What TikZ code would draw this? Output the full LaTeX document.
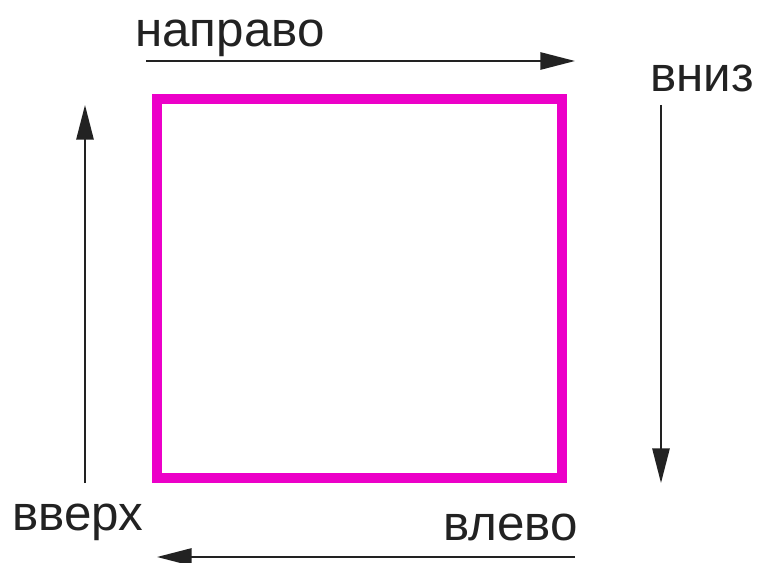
\documentclass[tikz,border=0pt]{standalone}
\usepackage{fontspec}
\setmainfont{Liberation Sans}
\usepackage{xcolor}
\usetikzlibrary{arrows.meta, positioning}
\definecolor{sqpink}{RGB}{236,0,200}
\definecolor{txtgray}{RGB}{34,34,34}

\begin{document}
\begin{tikzpicture}[x=0.75pt, y=-0.75pt,
  sq/.style={draw=sqpink, line width=7.5pt, line join=miter},
  arr/.style={-{Triangle[length=26pt, width=13pt]}, line width=1.3pt, draw=txtgray},
  lbl/.style={font=\fontsize{37}{40}\selectfont, text=txtgray, inner sep=0pt, anchor=base west},
]
\useasboundingbox (0,0) rectangle (758,563);
% square
\draw[sq] (157,99) rectangle (562,478);
% arrow ends
\coordinate (tl) at (146,61);   \coordinate (tr) at (575,61);
\coordinate (rt) at (661,105);  \coordinate (rb) at (661,483);
\coordinate (br) at (575,557);  \coordinate (bl) at (157,557);
\coordinate (lb) at (85,483);   \coordinate (lt) at (85,105);
% labels
\node[lbl] at (135,47)  (right) {направо};
\node[lbl] at (650,92)  (down)  {вниз};
\node[lbl] at (443,540) (left)  {влево};
\node[lbl] at (12,530)  (up)    {вверх};
% arrows
\draw[arr] (tl) -- (tr);
\draw[arr] (rt) -- (rb);
\draw[arr] (br) -- (bl);
\draw[arr] (lb) -- (lt);
\end{tikzpicture}
\end{document}
